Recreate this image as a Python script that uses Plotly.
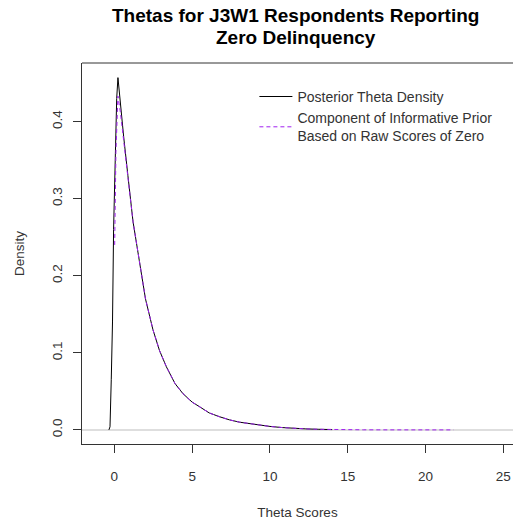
import plotly.graph_objects as go

# Posterior theta density (kernel density estimate)
theta_post = [-0.35, -0.28, -0.2, -0.12, -0.05, 0.05, 0.15, 0.23, 0.4, 0.6, 0.87, 1.2,
              1.6, 2.0, 2.48, 2.9, 3.34, 3.9, 4.41, 5.0, 5.48, 6.1, 6.77, 7.4, 8.05,
              8.7, 9.34, 10.0, 10.8, 11.5, 12.3, 13.1, 14.0]
dens_post = [0.0, 0.004, 0.065, 0.14, 0.26, 0.36, 0.43, 0.457, 0.42, 0.38, 0.33, 0.27,
             0.22, 0.17, 0.13, 0.103, 0.082, 0.06, 0.047, 0.036, 0.030, 0.022, 0.017,
             0.013, 0.010, 0.008, 0.006, 0.0045, 0.003, 0.002, 0.0013, 0.0008, 0.0004]

# Informative prior component (raw score zero)
theta_prior = [0.02, 0.1, 0.23, 0.4, 0.6, 0.87, 1.2, 1.6, 2.0, 2.48, 2.9, 3.34, 3.9,
               4.41, 5.0, 5.48, 6.1, 6.77, 7.4, 8.05, 8.7, 9.34, 10.0, 10.8, 11.5,
               12.3, 13.1, 14.0, 15.0, 16.0, 17.0, 18.0, 19.0, 20.0, 21.0, 21.8]
dens_prior = [0.24, 0.36, 0.433, 0.41, 0.375, 0.33, 0.27, 0.22, 0.17, 0.13, 0.103,
              0.082, 0.06, 0.047, 0.036, 0.030, 0.022, 0.017, 0.013, 0.010, 0.008,
              0.006, 0.0045, 0.003, 0.002, 0.0013, 0.0008, 0.0004, 0.0002, 0.00012,
              0.00007, 0.00004, 0.00002, 0.00001, 0.00001, 0.0]

x_ticks = [0, 5, 10, 15, 20, 25]
y_ticks = [0.0, 0.1, 0.2, 0.3, 0.4]
y_tick_labels = ["0.0", "0.1", "0.2", "0.3", "0.4"]
title_lines = ["Thetas for J3W1 Respondents Reporting", "Zero Delinquency"]

FONT = "Liberation Sans, Arial, sans-serif"

fig = go.Figure()
fig.add_trace(go.Scatter(x=theta_post, y=dens_post, mode="lines",
                         name="Posterior Theta Density",
                         line=dict(color="black", width=1)))
fig.add_trace(go.Scatter(x=theta_prior, y=dens_prior, mode="lines",
                         name="Component of Informative Prior<br>Based on Raw Scores of Zero",
                         line=dict(color="#A020F0", width=1, dash="4px,3px")))

# horizontal reference line at zero
fig.add_shape(type="line", xref="paper", yref="y", x0=0, x1=1, y0=0, y1=0,
              line=dict(color="#D3D3D3", width=1.5), layer="below")
# top frame line
fig.add_shape(type="line", xref="paper", yref="paper", x0=0, x1=1, y0=1, y1=1,
              line=dict(color="#333333", width=1))

# two-line bold title
for txt, ypix in zip(title_lines, [15.5, 37.5]):
    fig.add_annotation(text="<b>" + txt + "</b>", xref="paper", yref="paper",
                       x=0.4965, y=(444 - ypix) / 381, xanchor="center", yanchor="middle",
                       showarrow=False, font=dict(family=FONT, size=19, color="black"))

fig.update_layout(
    width=513, height=523,
    margin=dict(l=82, r=0, t=63, b=79),
    paper_bgcolor="white", plot_bgcolor="white",
    font=dict(family=FONT, size=13.5, color="#333333"),
    showlegend=True,
    legend=dict(x=0.40, y=0.953, xanchor="left", yanchor="top", itemwidth=33,
                bgcolor="rgba(0,0,0,0)", font=dict(family=FONT, size=14, color="#333333"),
                tracegroupgap=4),
    xaxis=dict(range=[-2.08, 25.62], tickvals=x_ticks, showgrid=False, zeroline=False,
               showline=True, linecolor="#333333", linewidth=1,
               ticks="outside", ticklen=8, tickcolor="#333333", ticklabelstandoff=12,
               title=dict(text="Theta Scores", standoff=24,
                          font=dict(family=FONT, size=13.5, color="#333333"))),
    yaxis=dict(range=[-0.0183, 0.476], tickvals=y_ticks, ticktext=y_tick_labels,
               tickangle=-90, showgrid=False, zeroline=False,
               showline=True, linecolor="#333333", linewidth=1,
               ticks="outside", ticklen=8, tickcolor="#333333", ticklabelstandoff=6,
               title=dict(text="Density", standoff=21,
                          font=dict(family=FONT, size=13.5, color="#333333"))),
)

fig.write_html("out.html")
